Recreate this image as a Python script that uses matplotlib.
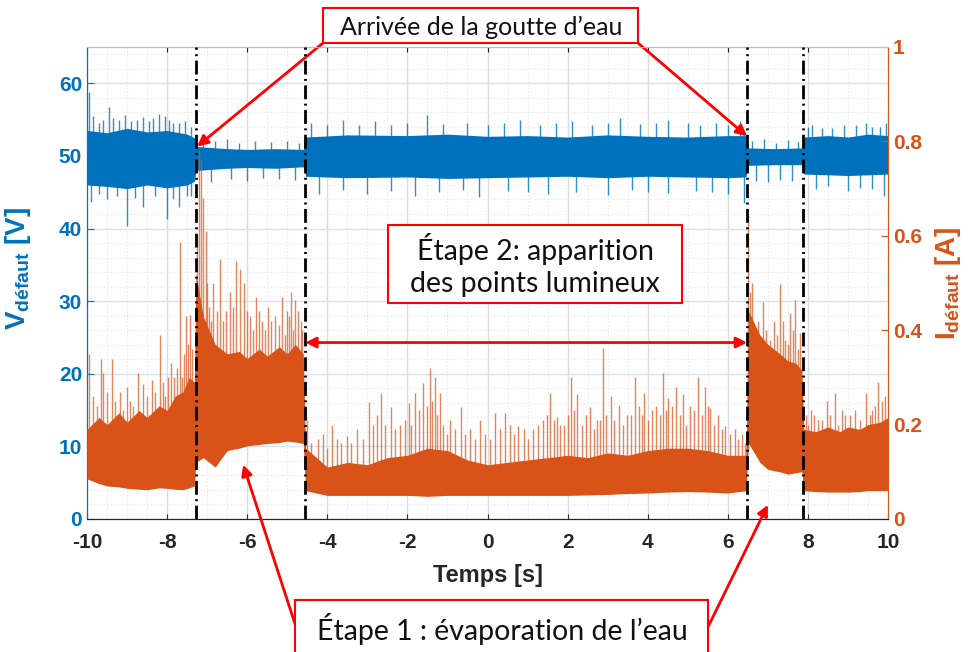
import numpy as np
import matplotlib
matplotlib.use("Agg")
import matplotlib.pyplot as plt
from matplotlib.patches import Rectangle

plt.rcParams['font.family'] = ['Liberation Sans', 'DejaVu Sans']
plt.rcParams['mathtext.fontset'] = 'custom'
plt.rcParams['mathtext.rm'] = 'Liberation Sans'
plt.rcParams['mathtext.bf'] = 'Liberation Sans:bold'
plt.rcParams['mathtext.it'] = 'Liberation Sans:italic'

BLUE = '#0072BD'
ORANGE = '#D95319'

# ---------------- data ----------------
# Voltage band envelope (V): time, lower, upper
v_env_t  = [-10, -9.5, -9, -8.5, -8, -7.5, -7.32, -7.28, -6.5, -6, -5.3, -4.6, -4.54, -3.5, -2, -1, 0, 1, 2, 3, 4, 5, 6, 6.45, 6.52, 7.2, 7.85, 7.9, 8.5, 9, 9.5, 10]
v_env_lo = [46.0, 45.8, 45.5, 46.0, 45.6, 46.0, 46.5, 48.0, 48.3, 48.4, 48.3, 48.5, 47.2, 47.0, 47.1, 46.9, 47.0, 47.1, 47.2, 47.0, 47.2, 47.1, 47.0, 47.1, 48.7, 48.8, 48.8, 47.5, 47.4, 47.3, 47.4, 47.5]
v_env_hi = [53.5, 53.2, 53.8, 53.3, 53.5, 53.0, 52.5, 51.3, 51.0, 50.9, 51.0, 50.9, 52.6, 52.9, 52.8, 53.0, 52.7, 52.8, 52.6, 52.9, 52.7, 52.6, 52.8, 52.8, 51.1, 51.0, 51.1, 52.6, 52.8, 52.6, 53.0, 52.8]
# Voltage excursions above / below the band
v_pk_t  = [-9.95, -9.85, -9.7, -9.6, -9.45, -9.35, -9.2, -9.05, -8.9, -8.75, -8.6, -8.45, -8.35, -8.2, -8.05, -7.95, -7.85, -7.7, -7.55, -7.4,
           -7.1, -6.8, -6.5, -6.2, -5.8, -5.4, -5.0, -4.7,
           -4.4, -4.0, -3.6, -3.2, -2.8, -2.4, -2.0, -1.5, -1.1, -0.5, 0.0, 0.4, 0.8, 1.3, 1.7, 2.1, 2.6, 3.0, 3.3, 3.8, 4.2, 4.5, 5.0, 5.3, 5.7, 6.0, 6.3,
           6.6, 6.9, 7.2, 7.5, 7.75,
           8.0, 8.1, 8.35, 8.6, 8.9, 9.2, 9.45, 9.6, 9.8, 9.95]
v_pk_v  = [58.8, 55.5, 54.5, 55.0, 56.7, 55.2, 55.0, 55.6, 54.8, 55.0, 55.3, 54.8, 55.2, 55.8, 55.5, 55.0, 54.6, 54.6, 54.8, 54.0,
           52.7, 52.0, 52.3, 51.8, 52.0, 51.9, 52.0, 51.8,
           54.5, 54.2, 55.0, 54.3, 54.8, 54.2, 54.6, 55.7, 54.4, 54.5, 54.2, 54.6, 55.0, 54.3, 54.5, 54.8, 54.2, 54.6, 55.2, 54.4, 54.6, 55.0, 54.5, 54.3, 54.6, 54.2, 54.8,
           52.0, 52.3, 51.8, 52.2, 51.9,
           54.0, 54.3, 53.8, 53.8, 54.2, 54.2, 54.6, 54.0, 54.0, 54.5]
v_dip_t = [-9.9, -9.7, -9.5, -9.25, -9.0, -8.8, -8.6, -8.3, -8.0, -7.85, -7.7, -7.5, -7.4,
           -6.9, -6.4, -6.0, -5.6, -5.2, -4.8,
           -4.2, -3.6, -3.0, -2.4, -1.8, -1.2, -0.6, -0.2, 0.5, 1.0, 1.5, 2.2, 3.0, 3.6, 4.0, 4.5, 5.2, 5.6, 6.0, 6.4,
           6.7, 7.0, 7.3, 7.6,
           8.2, 8.5, 9.0, 9.3, 9.6, 9.9]
v_dip_v = [43.6, 44.8, 44.0, 44.5, 40.3, 44.2, 43.0, 44.5, 41.3, 44.0, 43.0, 44.5, 44.5,
           46.4, 46.8, 46.6, 46.9, 46.8, 46.7,
           44.8, 45.3, 44.7, 45.2, 44.5, 45.0, 45.3, 44.4, 45.2, 45.0, 44.8, 45.1, 44.6, 45.3, 45.0, 44.9, 45.2, 45.0, 44.7, 43.5,
           46.6, 46.4, 46.7, 46.5,
           45.4, 45.8, 45.2, 45.6, 45.5, 44.5]

# Current band envelope (A): time, lower, upper
i_env_t  = [-10, -9.7, -9.5, -9.2, -9, -8.7, -8.5, -8.2, -8, -7.8, -7.6, -7.45, -7.32, -7.28, -7.1, -6.8, -6.5, -6.2, -6, -5.7, -5.5, -5.2, -5, -4.8, -4.6,
            -4.54, -4, -3.5, -3, -2.5, -2, -1.5, -1, -0.5, 0, 0.5, 1, 1.5, 2, 2.5, 3, 3.5, 4, 4.5, 5, 5.5, 6, 6.45,
            6.52, 6.8, 7, 7.3, 7.5, 7.7, 7.85, 7.9, 8.2, 8.5, 8.8, 9, 9.3, 9.5, 9.8, 10]
i_env_lo = [0.085, 0.075, 0.070, 0.068, 0.065, 0.063, 0.062, 0.066, 0.065, 0.063, 0.062, 0.066, 0.070, 0.120, 0.130, 0.110, 0.145, 0.150, 0.155, 0.158, 0.160, 0.162, 0.165, 0.163, 0.160,
            0.060, 0.050, 0.050, 0.050, 0.050, 0.050, 0.048, 0.050, 0.050, 0.050, 0.050, 0.050, 0.050, 0.050, 0.051, 0.052, 0.054, 0.055, 0.057, 0.058, 0.057, 0.055, 0.060,
            0.160, 0.120, 0.105, 0.100, 0.095, 0.098, 0.100, 0.060, 0.058, 0.057, 0.057, 0.057, 0.058, 0.060, 0.060, 0.060]
i_env_hi = [0.190, 0.215, 0.200, 0.225, 0.205, 0.230, 0.215, 0.240, 0.230, 0.260, 0.270, 0.300, 0.290, 0.520, 0.430, 0.370, 0.350, 0.355, 0.340, 0.360, 0.345, 0.365, 0.350, 0.370, 0.350,
            0.150, 0.110, 0.120, 0.115, 0.130, 0.135, 0.150, 0.145, 0.125, 0.115, 0.120, 0.125, 0.130, 0.135, 0.130, 0.140, 0.135, 0.145, 0.150, 0.150, 0.145, 0.135, 0.135,
            0.440, 0.390, 0.370, 0.350, 0.335, 0.330, 0.315, 0.190, 0.185, 0.195, 0.185, 0.195, 0.190, 0.200, 0.205, 0.215]
# Current spikes
i_pk_t = [-9.95, -9.85, -9.75, -9.65, -9.60, -9.5, -9.38, -9.3, -9.18, -9.1, -9.0, -8.93, -8.85, -8.73, -8.60, -8.5, -8.45, -8.38, -8.3, -8.18, -8.1, -8.05, -7.98, -7.9, -7.83, -7.75, -7.68, -7.62, -7.58, -7.53, -7.48, -7.43, -7.38,
          -7.25, -7.20, -7.15, -7.10, -7.03, -7.0, -6.95, -6.9, -6.85, -6.75, -6.68, -6.6, -6.53, -6.43, -6.35, -6.28, -6.18, -6.08, -6.0, -5.93, -5.85, -5.78, -5.7, -5.63, -5.55, -5.48, -5.4, -5.31, -5.2, -5.13, -5.06, -5.01, -4.95, -4.91, -4.86, -4.81, -4.72, -4.66, -4.62,
          -4.51, -4.4, -4.23, -4.1, -4.0, -3.88, -3.75, -3.65, -3.51, -3.4, -3.26, -3.1, -2.96, -2.85, -2.75, -2.66, -2.55, -2.41, -2.3, -2.19, -2.05, -1.96, -1.9, -1.81, -1.7, -1.61, -1.5, -1.44, -1.38, -1.31, -1.25, -1.19, -1.1, -1.0, -0.94, -0.8, -0.66, -0.55, -0.44, -0.3, -0.19, -0.05,
          0.05, 0.19, 0.3, 0.44, 0.55, 0.65, 0.76, 0.9, 1.0, 1.14, 1.25, 1.39, 1.48, 1.56, 1.65, 1.74, 1.82, 1.91, 2.0, 2.08, 2.15, 2.23, 2.35, 2.45, 2.56, 2.65, 2.73, 2.8, 2.88, 2.95, 3.08, 3.15, 3.28, 3.38, 3.48, 3.58, 3.68, 3.78, 3.85, 3.91, 4.0, 4.11, 4.2, 4.3, 4.38, 4.45, 4.51, 4.6, 4.71, 4.8, 4.88, 4.95,
          5.06, 5.15, 5.26, 5.35, 5.43, 5.5, 5.56, 5.65, 5.76, 5.85, 5.93, 6.05, 6.18, 6.25, 6.35, 6.42,
          6.50, 6.55, 6.6, 6.68, 6.75, 6.88, 6.95, 7.05, 7.15, 7.22, 7.30, 7.38, 7.43, 7.5, 7.55, 7.62, 7.68, 7.75, 7.80,
          7.95, 8.0, 8.08, 8.15, 8.25, 8.35, 8.48, 8.55, 8.68, 8.75, 8.85, 8.93, 9.05, 9.18, 9.3, 9.45, 9.55, 9.60, 9.68, 9.75, 9.85, 9.93]
i_pk_v = [0.35, 0.26, 0.24, 0.34, 0.31, 0.27, 0.34, 0.25, 0.27, 0.23, 0.28, 0.25, 0.24, 0.31, 0.285, 0.26, 0.22, 0.295, 0.27, 0.39, 0.29, 0.26, 0.30, 0.33, 0.30, 0.32, 0.586, 0.30, 0.35, 0.43, 0.37, 0.433, 0.36,
          0.60, 0.78, 0.76, 0.68, 0.61, 0.50, 0.45, 0.42, 0.50, 0.44, 0.55, 0.42, 0.44, 0.48, 0.45, 0.546, 0.53, 0.50, 0.44, 0.43, 0.40, 0.47, 0.44, 0.42, 0.40, 0.45, 0.42, 0.43, 0.41, 0.47, 0.39, 0.44, 0.43, 0.48, 0.40, 0.465, 0.44, 0.42, 0.40,
          0.21, 0.16, 0.17, 0.18, 0.15, 0.20, 0.17, 0.16, 0.175, 0.16, 0.19, 0.17, 0.248, 0.20, 0.22, 0.267, 0.20, 0.238, 0.19, 0.20, 0.21, 0.246, 0.20, 0.267, 0.23, 0.289, 0.24, 0.32, 0.25, 0.30, 0.22, 0.267, 0.20, 0.18, 0.21, 0.19, 0.238, 0.18, 0.19, 0.17, 0.21, 0.18,
          0.17, 0.225, 0.19, 0.225, 0.20, 0.18, 0.196, 0.19, 0.17, 0.19, 0.20, 0.21, 0.22, 0.267, 0.21, 0.217, 0.20, 0.20, 0.22, 0.30, 0.23, 0.264, 0.20, 0.22, 0.238, 0.19, 0.21, 0.21, 0.363, 0.22, 0.26, 0.21, 0.242, 0.20, 0.22, 0.22, 0.30, 0.24, 0.22, 0.267, 0.21, 0.23, 0.24, 0.22, 0.31, 0.23, 0.257, 0.24, 0.28, 0.22, 0.265, 0.20,
          0.24, 0.23, 0.30, 0.22, 0.28, 0.24, 0.236, 0.20, 0.22, 0.19, 0.196, 0.18, 0.19, 0.17, 0.18, 0.16,
          0.645, 0.48, 0.50, 0.40, 0.42, 0.46, 0.40, 0.38, 0.42, 0.39, 0.497, 0.42, 0.38, 0.37, 0.437, 0.40, 0.465, 0.36, 0.395,
          0.22, 0.20, 0.23, 0.22, 0.21, 0.21, 0.25, 0.22, 0.267, 0.20, 0.23, 0.22, 0.22, 0.23, 0.21, 0.267, 0.22, 0.23, 0.24, 0.29, 0.25, 0.26]

event_t = [-7.28, -4.56, 6.48, 7.88]
x_ticks = [-10, -8, -6, -4, -2, 0, 2, 4, 6, 8, 10]
v_ticks = [0, 10, 20, 30, 40, 50, 60]
i_ticks = [0, 0.2, 0.4, 0.6, 0.8, 1]
i_tick_labels = ['0', '0.2', '0.4', '0.6', '0.8', '1']

# ---------------- figure ----------------
W, H = 971, 652
fig = plt.figure(figsize=(W / 100, H / 100), dpi=100)
ax = fig.add_axes([87 / W, 1 - 519 / H, (888 - 87) / W, (519 - 47) / H])
ax2 = ax.twinx()

ax.set_xlim(-10, 10)
ax.set_ylim(0, 65)
ax2.set_ylim(0, 1)

# grid (MATLAB-like)
ax.set_xticks(x_ticks)
ax.set_xticks(np.arange(-10, 10.01, 0.5), minor=True)
ax.set_yticks(v_ticks)
ax.set_yticks(np.arange(0, 65.01, 2), minor=True)
ax2.set_yticks(i_ticks)
ax.xaxis.grid(True, which='major', color='#dcdcdc', lw=1.0, ls='-')
ax.xaxis.grid(True, which='minor', color='#e4e4e4', lw=0.8, ls=(0, (1, 2)))
ax.yaxis.grid(True, which='major', color='#d3e4f3', lw=1.0, ls='-')
ax.yaxis.grid(True, which='minor', color='#dfeaf5', lw=0.8, ls=(0, (1, 2)))
ax.set_axisbelow(True)

# voltage
ax.vlines(v_pk_t, 50, v_pk_v, color=BLUE, lw=1.0, alpha=0.8, zorder=2)
ax.vlines(v_dip_t, v_dip_v, 50, color=BLUE, lw=1.0, alpha=0.8, zorder=2)
ax.fill_between(v_env_t, v_env_lo, v_env_hi, color=BLUE, lw=0, zorder=3)

# current
i_base = np.interp(i_pk_t, i_env_t, i_env_lo) + 0.02
ax2.vlines(i_pk_t, i_base, i_pk_v, color=ORANGE, lw=1.0, alpha=0.7, zorder=2)
ax2.fill_between(i_env_t, i_env_lo, i_env_hi, color=ORANGE, lw=0, zorder=3)

for t in event_t:
    ax2.axvline(t, color='black', lw=2.0, ls=(0, (5, 1.6, 0.7, 1.6)), zorder=5)

# axes styling
ax.tick_params(axis='x', which='both', direction='in', top=True, colors='#262626', labelsize=15, pad=10)
ax.tick_params(axis='x', which='minor', length=0)
ax.tick_params(axis='y', which='major', direction='in', colors=BLUE, labelsize=15, length=5)
ax.tick_params(axis='y', which='minor', length=0)
ax2.tick_params(axis='y', direction='in', colors=ORANGE, labelsize=15, length=5)
ax.set_xticklabels([str(v) for v in x_ticks])
ax.set_yticklabels([str(v) for v in v_ticks])
ax2.set_yticklabels(i_tick_labels)
for lab in ax.get_xticklabels() + ax.get_yticklabels() + ax2.get_yticklabels():
    lab.set_fontweight('bold')

ax.spines['left'].set_color(BLUE)
ax2.spines['left'].set_color(BLUE)
ax2.spines['right'].set_color(ORANGE)
ax.spines['right'].set_visible(False)
ax.spines['bottom'].set_color('#262626')
ax2.spines['bottom'].set_color('#262626')
ax.spines['top'].set_color('#bfbfbf')
ax2.spines['top'].set_color('#bfbfbf')

ax.set_xlabel('Temps [s]', fontsize=17, fontweight='bold', color='#262626', labelpad=9)
ax.set_ylabel(r'$\mathbf{V}_{\mathbf{défaut}}$ [V]', fontsize=20, fontweight='bold', color=BLUE)
ax2.set_ylabel(r'$\mathbf{I}_{\mathbf{défaut}}$ [A]', fontsize=20, fontweight='bold', color=ORANGE, rotation=90, labelpad=8)
ax.yaxis.set_label_coords(-0.068, 0.53)

# ---------------- annotations ----------------
def fx(px):
    return px / W

def fy(py):
    return 1 - py / H

txt_family = ['Lato', 'DejaVu Sans']

def box(x0, y0, x1, y1):
    r = Rectangle((fx(x0), fy(y1)), fx(x1) - fx(x0), fy(y0) - fy(y1), transform=fig.transFigure,
                  facecolor='white', edgecolor='red', lw=1.5, zorder=10)
    fig.add_artist(r)

box(323, 8, 638, 43)
fig.text(fx(481), fy(27), "Arrivée de la goutte d’eau", ha='center', va='center', zorder=11,
         family=txt_family, fontsize=18, color='#111111')

box(388, 225, 682, 303)
fig.text(fx(535), fy(265), "Étape 2: apparition\ndes points lumineux", ha='center', va='center',
         linespacing=1.3, zorder=11, family=txt_family, fontsize=20.5, color='#111111')

box(295, 600, 708, 680)
fig.text(fx(502), fy(629), "Étape 1 : évaporation de l’eau", ha='center', va='center', zorder=11,
         family=txt_family, fontsize=20.5, color='#111111')

arw = dict(arrowstyle='-|>', color='red', lw=2, mutation_scale=16, shrinkA=0, shrinkB=0)
# drop arrival arrows (heads on voltage trace)
ax.annotate('', xy=(-7.25, 51.3), xycoords='data', xytext=(fx(323), fy(43)), textcoords='figure fraction',
            arrowprops=arw, annotation_clip=False, zorder=12)
ax.annotate('', xy=(6.48, 52.7), xycoords='data', xytext=(fx(638), fy(43)), textcoords='figure fraction',
            arrowprops=arw, annotation_clip=False, zorder=12)
# step 2 double arrow
ax.annotate('', xy=(-4.55, 24.3), xytext=(6.48, 24.3), xycoords='data',
            arrowprops=dict(arrowstyle='<|-|>', color='red', lw=2, mutation_scale=16, shrinkA=0, shrinkB=0), zorder=12)
# step 1 arrows
ax2.annotate('', xy=(-6.1, 0.115), xycoords='data', xytext=(fx(296), fy(627)), textcoords='figure fraction',
             arrowprops=arw, annotation_clip=False, zorder=12)
ax2.annotate('', xy=(7.0, 0.03), xycoords='data', xytext=(fx(708), fy(627)), textcoords='figure fraction',
             arrowprops=arw, annotation_clip=False, zorder=12)

fig.savefig('out.png', dpi=100, facecolor='white')
